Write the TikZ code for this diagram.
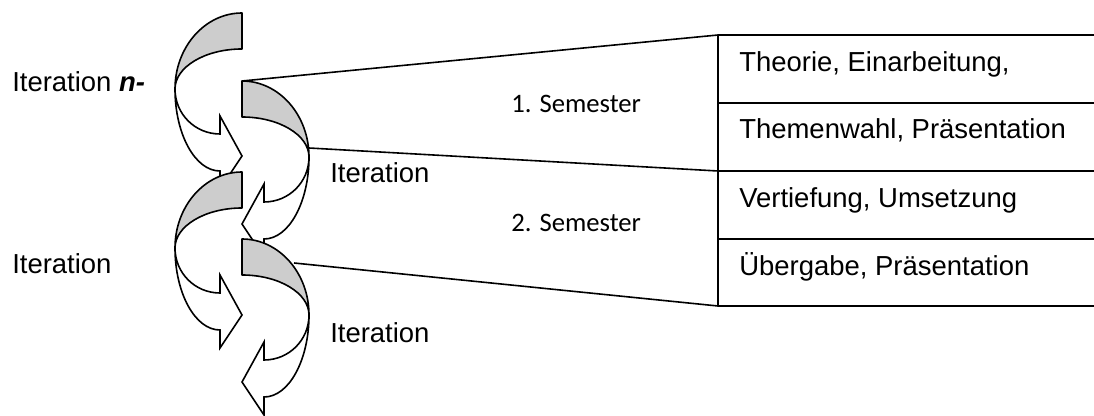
\documentclass[tikz,border=0pt]{standalone}
\usepackage{fontspec}
\setmainfont{Liberation Sans}
\newfontfamily\carlitofont{Carlito}
\definecolor{bandgray}{RGB}{205,205,205}
\tikzset{
  ln/.style={line width=1.2pt},
  band/.style={draw=black, line width=1.2pt, fill=bandgray, line join=round},
  body/.style={draw=black, line width=1.2pt, fill=white, line join=miter},
  lbl/.style={anchor=base west, inner sep=0pt, font=\fontsize{20.6}{24}\selectfont},
  sem/.style={anchor=base west, inner sep=0pt, font=\carlitofont\fontsize{20}{24}\selectfont},
  curlL/.pic={
    \path[band] (0,0) .. controls (-37,0) and (-67,34) .. (-67,76)
      .. controls (-67,54) and (-37,36) .. (0,36) -- cycle;
    \path[body] (-67,76) .. controls (-67,101) and (-47,121) .. (-22,121)
      -- (-22,103) -- (0,143) -- (-22,176) -- (-22,158)
      .. controls (-47,158) and (-67,121) .. (-67,76) -- cycle;
  },
  curlR/.pic={
    \path[band] (0,0) .. controls (37,0) and (67,34) .. (67,76)
      .. controls (67,54) and (37,36) .. (0,36) -- cycle;
    \path[body] (67,76) .. controls (67,101) and (47,121) .. (22,121)
      -- (22,103) -- (0,143) -- (22,176) -- (22,158)
      .. controls (47,158) and (67,121) .. (67,76) -- cycle;
  }
}
\begin{document}
\begin{tikzpicture}[x=0.75pt,y=-0.75pt]
\path[use as bounding box, fill=white] (0,0) rectangle (1094,416);

% table frame
\coordinate (t0) at (718,35);
\coordinate (t1) at (718,103);
\coordinate (t2) at (718,171);
\coordinate (t3) at (718,239);
\coordinate (t4) at (718,306);
\coordinate (e0) at (1094,35);
\coordinate (e1) at (1094,103);
\coordinate (e2) at (1094,171);
\coordinate (e3) at (1094,239);
\coordinate (e4) at (1094,306);
\draw[ln] (t0) -- (e0);
\draw[ln] (t1) -- (e1);
\draw[ln] (t2) -- (e2);
\draw[ln] (t3) -- (e3);
\draw[ln] (t4) -- (e4);
\draw[ln] (t0) -- (t4);

% fan lines
\coordinate (a1) at (242,81);
\coordinate (a2) at (309,148);
\coordinate (a3) at (294,263);
\draw[ln] (a1) -- (t0);
\draw[ln] (a2) -- (t2);
\draw[ln] (a3) -- (t4);

% curved arrows
\pic at (242,13) {curlL};
\pic at (242,81) {curlR};
\pic at (242,172) {curlL};
\pic at (242,239) {curlR};

% labels
\node[lbl] (itA) at (12,92) {Iteration \textbf{\textit{n-}}};
\node[lbl] (itB) at (12,273) {Iteration};
\node[lbl] (itC) at (330,183) {Iteration};
\node[lbl] (itD) at (330,342) {Iteration};
\node[sem] (semA) at (511,113) {1. Semester};
\node[sem] (semB) at (511,232) {2. Semester};

\node[lbl] (c1) at (739,72) {Theorie, Einarbeitung,};
\node[lbl] (c2) at (739,139) {Themenwahl, Präsentation};
\node[lbl] (c3) at (739,208) {Vertiefung, Umsetzung};
\node[lbl] (c4) at (739,276) {Übergabe, Präsentation};
\end{tikzpicture}
\end{document}
